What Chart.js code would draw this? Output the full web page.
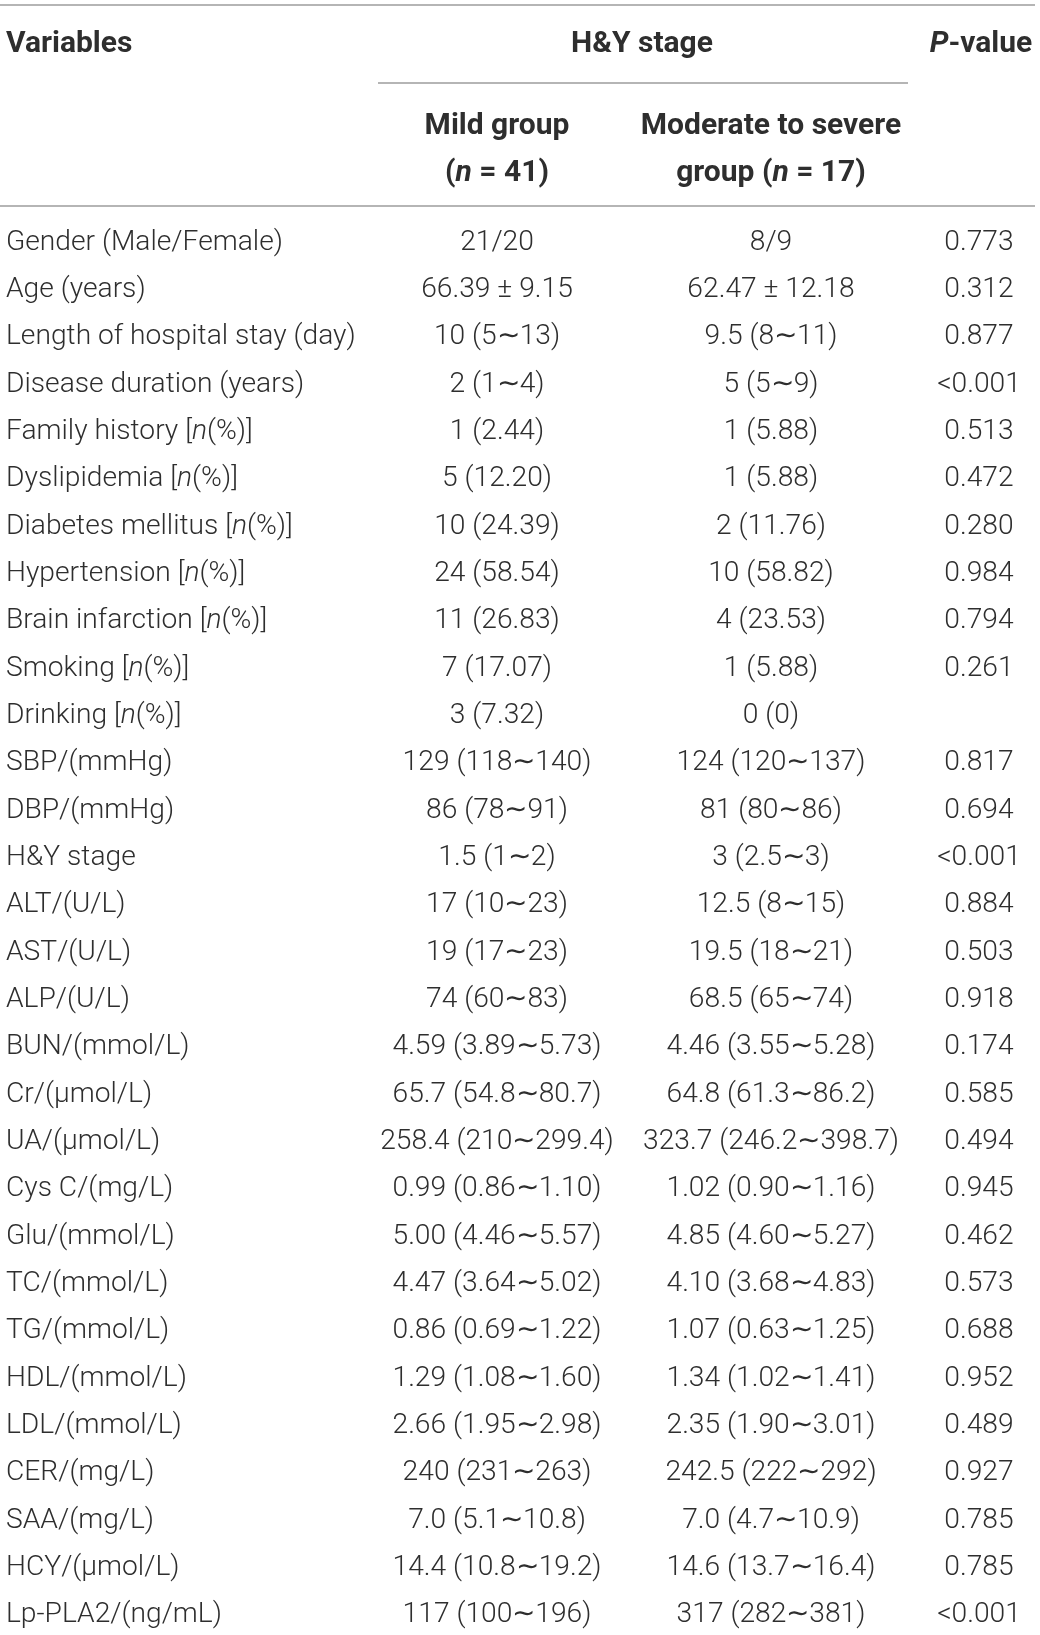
<!DOCTYPE html>
<html>
<head>
<meta charset="utf-8">
<script src="https://cdn.jsdelivr.net/npm/chart.js@4.4.1/dist/chart.umd.min.js"></script>
<style>
  html, body { margin: 0; padding: 0; background: #fff; }
  #wrap { position: relative; width: 1040px; height: 1635px; }
</style>
</head>
<body>
<div id="wrap"><canvas id="tabela"></canvas></div>
<script>
// === DADOS DA TABELA ===
const variables = [
  'Gender (Male/Female)', 'Age (years)', 'Length of hospital stay (day)', 'Disease duration (years)',
  'Family history [n(%)]', 'Dyslipidemia [n(%)]', 'Diabetes mellitus [n(%)]', 'Hypertension [n(%)]',
  'Brain infarction [n(%)]', 'Smoking [n(%)]', 'Drinking [n(%)]', 'SBP/(mmHg)', 'DBP/(mmHg)',
  'H&Y stage', 'ALT/(U/L)', 'AST/(U/L)', 'ALP/(U/L)', 'BUN/(mmol/L)', 'Cr/(μmol/L)', 'UA/(μmol/L)',
  'Cys C/(mg/L)', 'Glu/(mmol/L)', 'TC/(mmol/L)', 'TG/(mmol/L)', 'HDL/(mmol/L)', 'LDL/(mmol/L)',
  'CER/(mg/L)', 'SAA/(mg/L)', 'HCY/(μmol/L)', 'Lp-PLA2/(ng/mL)'
];
const mildGroup = [
  '21/20', '66.39 ± 9.15', '10 (5∼13)', '2 (1∼4)', '1 (2.44)', '5 (12.20)', '10 (24.39)', '24 (58.54)',
  '11 (26.83)', '7 (17.07)', '3 (7.32)', '129 (118∼140)', '86 (78∼91)', '1.5 (1∼2)', '17 (10∼23)',
  '19 (17∼23)', '74 (60∼83)', '4.59 (3.89∼5.73)', '65.7 (54.8∼80.7)', '258.4 (210∼299.4)',
  '0.99 (0.86∼1.10)', '5.00 (4.46∼5.57)', '4.47 (3.64∼5.02)', '0.86 (0.69∼1.22)', '1.29 (1.08∼1.60)',
  '2.66 (1.95∼2.98)', '240 (231∼263)', '7.0 (5.1∼10.8)', '14.4 (10.8∼19.2)', '117 (100∼196)'
];
const severeGroup = [
  '8/9', '62.47 ± 12.18', '9.5 (8∼11)', '5 (5∼9)', '1 (5.88)', '1 (5.88)', '2 (11.76)', '10 (58.82)',
  '4 (23.53)', '1 (5.88)', '0 (0)', '124 (120∼137)', '81 (80∼86)', '3 (2.5∼3)', '12.5 (8∼15)',
  '19.5 (18∼21)', '68.5 (65∼74)', '4.46 (3.55∼5.28)', '64.8 (61.3∼86.2)', '323.7 (246.2∼398.7)',
  '1.02 (0.90∼1.16)', '4.85 (4.60∼5.27)', '4.10 (3.68∼4.83)', '1.07 (0.63∼1.25)', '1.34 (1.02∼1.41)',
  '2.35 (1.90∼3.01)', '242.5 (222∼292)', '7.0 (4.7∼10.9)', '14.6 (13.7∼16.4)', '317 (282∼381)'
];
const pValues = [
  '0.773', '0.312', '0.877', '<0.001', '0.513', '0.472', '0.280', '0.984', '0.794', '0.261', '',
  '0.817', '0.694', '<0.001', '0.884', '0.503', '0.918', '0.174', '0.585', '0.494', '0.945', '0.462',
  '0.573', '0.688', '0.952', '0.489', '0.927', '0.785', '0.785', '<0.001'
];
const headerVariables = 'Variables';
const headerStage = 'H&Y stage';
const headerMild = ['Mild group', '(n = 41)'];
const headerSevere = ['Moderate to severe', 'group (n = 17)'];
const headerP = 'P-value';

// === LAYOUT (posições das colunas no eixo x, em px) ===
const COL_X = { vars: 6, mild: 497, severe: 771, p: 979 };
const FONT = 'Roboto, "Liberation Sans", sans-serif';
const TEXT_COLOR = '#2e2e2e';
const RULE_COLOR = '#9c9c9c';

// Partes em itálico: o "n" de [n(%)] / (n = ..) e o "P" de P-value
function segmentos(txt) {
  const re = /(?<=\[)n(?=\()|(?<=\()n(?= =)|^P(?=-value)/g;
  const out = [];
  let last = 0, m;
  while ((m = re.exec(txt)) !== null) {
    if (m.index > last) out.push({ t: txt.slice(last, m.index), it: false });
    out.push({ t: m[0], it: true });
    last = m.index + m[0].length;
  }
  if (last < txt.length) out.push({ t: txt.slice(last), it: false });
  return out;
}

function textoRico(ctx, txt, x, y, align, size, weight) {
  const segs = segmentos(txt);
  const fontOf = s => (s.it ? 'italic ' : '') + weight + ' ' + size + 'px ' + FONT;
  let total = 0;
  segs.forEach(s => { ctx.font = fontOf(s); s.w = ctx.measureText(s.t).width; total += s.w; });
  let cx = align === 'left' ? x : align === 'right' ? x - total : x - total / 2;
  ctx.textAlign = 'left';
  ctx.textBaseline = 'middle';
  ctx.fillStyle = TEXT_COLOR;
  segs.forEach(s => { ctx.font = fontOf(s); ctx.fillText(s.t, cx, y); cx += s.w; });
}

function linha(ctx, x1, x2, y) {
  ctx.save();
  ctx.strokeStyle = RULE_COLOR;
  ctx.lineWidth = 1.6;
  ctx.beginPath();
  ctx.moveTo(x1, y);
  ctx.lineTo(x2, y);
  ctx.stroke();
  ctx.restore();
}

// Plugin que escreve as células nas posições dadas pelas escalas
const tabelaPlugin = {
  id: 'tabela',
  afterDatasetsDraw(chart) {
    const ctx = chart.ctx;
    const y = chart.scales.y;
    const x = chart.scales.x;
    const BODY = 28.2, HEAD = 30;

    // cabeçalho
    linha(ctx, 0, 1035, 5);
    textoRico(ctx, headerVariables, x.getPixelForValue(COL_X.vars), 44, 'left', HEAD, 'bold');
    textoRico(ctx, headerStage, (x.getPixelForValue(COL_X.mild) + x.getPixelForValue(COL_X.severe)) / 2 + 8, 44, 'center', HEAD, 'bold');
    textoRico(ctx, headerP, x.getPixelForValue(COL_X.p) + 2, 44, 'center', HEAD, 'bold');
    linha(ctx, 378, 908, 83);
    textoRico(ctx, headerMild[0], x.getPixelForValue(COL_X.mild), 126, 'center', HEAD, 'bold');
    textoRico(ctx, headerMild[1], x.getPixelForValue(COL_X.mild), 173, 'center', HEAD, 'bold');
    textoRico(ctx, headerSevere[0], x.getPixelForValue(COL_X.severe), 126, 'center', HEAD, 'bold');
    textoRico(ctx, headerSevere[1], x.getPixelForValue(COL_X.severe), 173, 'center', HEAD, 'bold');
    linha(ctx, 0, 1035, 206);

    // corpo: primeira coluna a partir da escala y (índice da linha)
    variables.forEach((v, i) => {
      textoRico(ctx, v, x.getPixelForValue(COL_X.vars), y.getPixelForValue(i), 'left', BODY, '300');
    });
    // restantes colunas a partir dos pontos de cada dataset
    chart.data.datasets.forEach((ds, di) => {
      const meta = chart.getDatasetMeta(di);
      meta.data.forEach((pt, i) => {
        textoRico(ctx, ds.textos[i], pt.x, pt.y, 'center', BODY, '300');
      });
    });
  }
};

const colunas = [
  { textos: mildGroup, x: COL_X.mild },
  { textos: severeGroup, x: COL_X.severe },
  { textos: pValues, x: COL_X.p }
];

new Chart(document.getElementById('tabela'), {
  type: 'scatter',
  data: {
    datasets: colunas.map(c => ({
      textos: c.textos,
      data: variables.map((v, i) => ({ x: c.x, y: i })),
      pointRadius: 0,
      pointHoverRadius: 0
    }))
  },
  options: {
    responsive: true,
    maintainAspectRatio: false,
    animation: false,
    events: [],
    layout: { padding: { top: 219, bottom: 0, left: 0, right: 0 } },
    plugins: { legend: { display: false }, tooltip: { enabled: false } },
    scales: {
      x: { type: 'linear', min: 0, max: 1040, display: false },
      y: { type: 'linear', reverse: true, min: -0.5, max: 29.42, display: false }
    }
  },
  plugins: [tabelaPlugin]
});
</script>
</body>
</html>
